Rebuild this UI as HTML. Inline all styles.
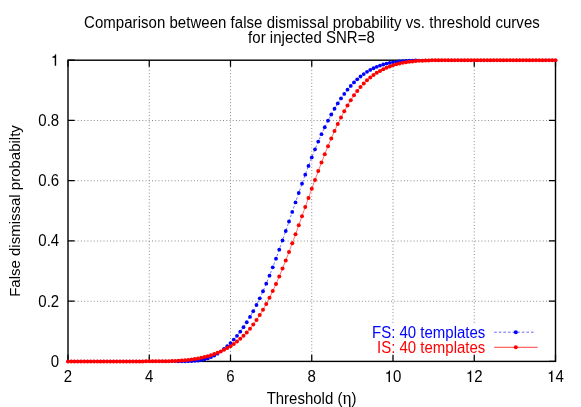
<!DOCTYPE html>
<html><head><meta charset="utf-8"><title>plot</title>
<style>html,body{margin:0;padding:0;background:#fff}svg{display:block;will-change:transform}text{font-family:"Liberation Sans",sans-serif;font-size:15.0px;fill:#000;stroke:#000;stroke-width:0px}.b{fill:#00f;stroke:#00f}.r{fill:#f00;stroke:#f00}</style></head>
<body>
<svg width="581" height="407" viewBox="0 0 581 407">
<rect width="581" height="407" fill="#fff"/>
<path d="M149.25 60.20V361.40M230.50 60.20V361.40M311.75 60.20V361.40M393.00 60.20V361.40M474.25 60.20V361.40M68.00 301.26H555.50M68.00 241.02H555.50M68.00 180.78H555.50M68.00 120.54H555.50" stroke="#8a8a8a" stroke-width="1" stroke-dasharray="1 2.23" fill="none"/>
<rect x="368" y="324.3" width="172" height="31" fill="#fff"/>
<rect x="68.0" y="60.2" width="487.5" height="301.2" fill="none" stroke="#000" stroke-width="1.4"/>
<path d="M68.00 361.40v-6.6M68.00 60.20v6.6M149.25 361.40v-6.6M149.25 60.20v6.6M230.50 361.40v-6.6M230.50 60.20v6.6M311.75 361.40v-6.6M311.75 60.20v6.6M393.00 361.40v-6.6M393.00 60.20v6.6M474.25 361.40v-6.6M474.25 60.20v6.6M555.50 361.40v-6.6M555.50 60.20v6.6M68.00 361.40h6.6M555.50 361.40h-6.6M68.00 301.16h6.6M555.50 301.16h-6.6M68.00 240.92h6.6M555.50 240.92h-6.6M68.00 180.68h6.6M555.50 180.68h-6.6M68.00 120.44h6.6M555.50 120.44h-6.6M68.00 60.20h6.6M555.50 60.20h-6.6" stroke="#000" stroke-width="1.25" fill="none"/>
<text transform="translate(68.00 381.90) scale(1 1.07)" text-anchor="middle">2</text>
<text transform="translate(149.25 381.90) scale(1 1.07)" text-anchor="middle">4</text>
<text transform="translate(230.50 381.90) scale(1 1.07)" text-anchor="middle">6</text>
<text transform="translate(311.75 381.90) scale(1 1.07)" text-anchor="middle">8</text>
<path d="M389.96 381.90L388.55 381.90L388.55 373.79L386.19 373.79L386.19 372.78C388.11 372.59 388.79 371.95 389.07 370.52L389.96 370.52Z" fill="#000"/>
<text transform="translate(393.00 381.90) scale(1 1.07)">0</text>
<path d="M471.21 381.90L469.80 381.90L469.80 373.79L467.44 373.79L467.44 372.78C469.36 372.59 470.04 371.95 470.32 370.52L471.21 370.52Z" fill="#000"/>
<text transform="translate(474.25 381.90) scale(1 1.07)">2</text>
<path d="M552.45 381.90L551.04 381.90L551.04 373.79L548.69 373.79L548.69 372.78C550.61 372.59 551.28 371.95 551.57 370.52L552.45 370.52Z" fill="#000"/>
<text transform="translate(555.50 381.90) scale(1 1.07)">4</text>
<text transform="translate(59.20 366.95) scale(1 1.07)" text-anchor="end">0</text>
<text transform="translate(59.20 306.71) scale(1 1.07)" text-anchor="end">0.2</text>
<text transform="translate(59.20 246.47) scale(1 1.07)" text-anchor="end">0.4</text>
<text transform="translate(59.20 186.23) scale(1 1.07)" text-anchor="end">0.6</text>
<text transform="translate(59.20 125.99) scale(1 1.07)" text-anchor="end">0.8</text>
<path d="M56.16 65.75L54.74 65.75L54.74 57.64L52.39 57.64L52.39 56.63C54.31 56.44 54.98 55.80 55.27 54.37L56.16 54.37Z" fill="#000"/>
<text transform="translate(311.95 28.00) scale(1 1.07)" text-anchor="middle" letter-spacing="0.04">Comparison between false dismissal probability vs. threshold curves</text>
<text transform="translate(311.45 42.60) scale(1 1.07)" text-anchor="middle" letter-spacing="0.03">for injected SNR=8</text>
<text transform="translate(311.60 404.30) scale(1 1.07)" text-anchor="middle">Threshold (<tspan font-family="Liberation Serif" font-size="17.5px">η</tspan>)</text>
<text transform="translate(19.9 211.0) rotate(-90) scale(1 1.0)" text-anchor="middle">False dismissal probabilty</text>
<text transform="translate(485.30 337.75) scale(1 1.07)" text-anchor="end" class="b">FS: 40 templates</text>
<text transform="translate(485.30 352.60) scale(1 1.07)" text-anchor="end" class="r">IS: 40 templates</text>
<path d="M494.2 332.2H535" stroke="#00f" stroke-width="0.6" stroke-dasharray="2.6 2" fill="none"/>
<circle cx="515.8" cy="332.2" r="2" fill="#00f"/>
<path d="M494.2 347.3H537.6" stroke="#f00" stroke-width="0.75" fill="none"/>
<circle cx="515.8" cy="347.3" r="2" fill="#f00"/>
<path d="M68.00 361.40L71.25 361.40L74.50 361.40L77.75 361.40L81.00 361.40L84.25 361.40L87.50 361.40L90.75 361.40L94.00 361.40L97.25 361.40L100.50 361.40L103.75 361.40L107.00 361.40L110.25 361.40L113.50 361.40L116.75 361.40L120.00 361.40L123.25 361.40L126.50 361.40L129.75 361.40L133.00 361.40L136.25 361.40L139.50 361.40L142.75 361.40L146.00 361.40L149.25 361.40L152.50 361.40L155.75 361.40L159.00 361.40L162.25 361.40L165.50 361.40L168.75 361.39L172.00 361.39L175.25 361.38L178.50 361.36L181.75 361.33L185.00 361.28L188.25 361.20L191.50 361.07L194.75 360.87L198.00 360.55L201.25 360.07L204.50 359.36L207.75 358.38L211.00 357.11L214.25 355.55L217.50 353.68L220.75 351.49L224.00 348.99L227.25 346.17L230.50 343.05L233.75 339.60L237.00 335.83L240.25 331.70L243.50 327.19L246.75 322.27L250.00 316.95L253.25 311.19L256.50 305.00L259.75 298.36L263.00 291.25L266.25 283.69L269.50 275.71L272.75 267.34L276.00 258.64L279.25 249.64L282.50 240.41L285.75 231.00L289.00 221.49L292.25 211.94L295.50 202.42L298.75 192.99L302.00 183.72L305.25 174.67L308.50 165.90L311.75 157.44L315.00 149.33L318.25 141.58L321.50 134.22L324.75 127.25L328.00 120.68L331.25 114.52L334.50 108.76L337.75 103.41L341.00 98.45L344.25 93.89L347.50 89.70L350.75 85.89L354.00 82.43L357.25 79.31L360.50 76.52L363.75 74.03L367.00 71.84L370.25 69.91L373.50 68.23L376.75 66.78L380.00 65.54L383.25 64.49L386.50 63.61L389.75 62.88L393.00 62.28L396.25 61.80L399.50 61.42L402.75 61.12L406.00 60.89L409.25 60.71L412.50 60.58L415.75 60.48L419.00 60.40L422.25 60.34L425.50 60.30L428.75 60.27L432.00 60.25L435.25 60.24L438.50 60.22L441.75 60.22L445.00 60.21L448.25 60.21L451.50 60.21L454.75 60.20L458.00 60.20L461.25 60.20L464.50 60.20L467.75 60.20L471.00 60.20L474.25 60.20L477.50 60.20L480.75 60.20L484.00 60.20L487.25 60.20L490.50 60.20L493.75 60.20L497.00 60.20L500.25 60.20L503.50 60.20L506.75 60.20L510.00 60.20L513.25 60.20L516.50 60.20L519.75 60.20L523.00 60.20L526.25 60.20L529.50 60.20L532.75 60.20L536.00 60.20L539.25 60.20L542.50 60.20L545.75 60.20L549.00 60.20L552.25 60.20L555.50 60.20" stroke="#00f" stroke-width="0.55" fill="none" stroke-dasharray="2.6 2"/><g fill="#00f"><circle cx="68.00" cy="361.40" r="1.55"/><circle cx="71.25" cy="361.40" r="1.55"/><circle cx="74.50" cy="361.40" r="1.55"/><circle cx="77.75" cy="361.40" r="1.55"/><circle cx="81.00" cy="361.40" r="1.55"/><circle cx="84.25" cy="361.40" r="1.55"/><circle cx="87.50" cy="361.40" r="1.55"/><circle cx="90.75" cy="361.40" r="1.55"/><circle cx="94.00" cy="361.40" r="1.55"/><circle cx="97.25" cy="361.40" r="1.55"/><circle cx="100.50" cy="361.40" r="1.55"/><circle cx="103.75" cy="361.40" r="1.55"/><circle cx="107.00" cy="361.40" r="1.55"/><circle cx="110.25" cy="361.40" r="1.55"/><circle cx="113.50" cy="361.40" r="1.55"/><circle cx="116.75" cy="361.40" r="1.55"/><circle cx="120.00" cy="361.40" r="1.55"/><circle cx="123.25" cy="361.40" r="1.55"/><circle cx="126.50" cy="361.40" r="1.55"/><circle cx="129.75" cy="361.40" r="1.55"/><circle cx="133.00" cy="361.40" r="1.55"/><circle cx="136.25" cy="361.40" r="1.55"/><circle cx="139.50" cy="361.40" r="1.55"/><circle cx="142.75" cy="361.40" r="1.55"/><circle cx="146.00" cy="361.40" r="1.55"/><circle cx="149.25" cy="361.40" r="1.55"/><circle cx="152.50" cy="361.40" r="1.55"/><circle cx="155.75" cy="361.40" r="1.55"/><circle cx="159.00" cy="361.40" r="1.55"/><circle cx="162.25" cy="361.40" r="1.55"/><circle cx="165.50" cy="361.40" r="1.55"/><circle cx="168.75" cy="361.39" r="1.55"/><circle cx="172.00" cy="361.39" r="1.55"/><circle cx="175.25" cy="361.38" r="1.55"/><circle cx="178.50" cy="361.36" r="1.9"/><circle cx="181.75" cy="361.33" r="1.9"/><circle cx="185.00" cy="361.28" r="1.9"/><circle cx="188.25" cy="361.20" r="1.9"/><circle cx="191.50" cy="361.07" r="1.9"/><circle cx="194.75" cy="360.87" r="1.9"/><circle cx="198.00" cy="360.55" r="1.9"/><circle cx="201.25" cy="360.07" r="1.9"/><circle cx="204.50" cy="359.36" r="1.9"/><circle cx="207.75" cy="358.38" r="1.9"/><circle cx="211.00" cy="357.11" r="1.9"/><circle cx="214.25" cy="355.55" r="1.9"/><circle cx="217.50" cy="353.68" r="1.9"/><circle cx="220.75" cy="351.49" r="1.55"/><circle cx="224.00" cy="348.99" r="1.9"/><circle cx="227.25" cy="346.17" r="1.9"/><circle cx="230.50" cy="343.05" r="1.9"/><circle cx="233.75" cy="339.60" r="1.9"/><circle cx="237.00" cy="335.83" r="1.9"/><circle cx="240.25" cy="331.70" r="1.9"/><circle cx="243.50" cy="327.19" r="1.9"/><circle cx="246.75" cy="322.27" r="1.9"/><circle cx="250.00" cy="316.95" r="1.9"/><circle cx="253.25" cy="311.19" r="1.9"/><circle cx="256.50" cy="305.00" r="1.9"/><circle cx="259.75" cy="298.36" r="1.9"/><circle cx="263.00" cy="291.25" r="1.9"/><circle cx="266.25" cy="283.69" r="1.9"/><circle cx="269.50" cy="275.71" r="1.9"/><circle cx="272.75" cy="267.34" r="1.9"/><circle cx="276.00" cy="258.64" r="1.9"/><circle cx="279.25" cy="249.64" r="1.9"/><circle cx="282.50" cy="240.41" r="1.9"/><circle cx="285.75" cy="231.00" r="1.9"/><circle cx="289.00" cy="221.49" r="1.9"/><circle cx="292.25" cy="211.94" r="1.9"/><circle cx="295.50" cy="202.42" r="1.9"/><circle cx="298.75" cy="192.99" r="1.9"/><circle cx="302.00" cy="183.72" r="1.9"/><circle cx="305.25" cy="174.67" r="1.9"/><circle cx="308.50" cy="165.90" r="1.9"/><circle cx="311.75" cy="157.44" r="1.9"/><circle cx="315.00" cy="149.33" r="1.9"/><circle cx="318.25" cy="141.58" r="1.9"/><circle cx="321.50" cy="134.22" r="1.9"/><circle cx="324.75" cy="127.25" r="1.9"/><circle cx="328.00" cy="120.68" r="1.9"/><circle cx="331.25" cy="114.52" r="1.9"/><circle cx="334.50" cy="108.76" r="1.9"/><circle cx="337.75" cy="103.41" r="1.9"/><circle cx="341.00" cy="98.45" r="1.9"/><circle cx="344.25" cy="93.89" r="1.9"/><circle cx="347.50" cy="89.70" r="1.9"/><circle cx="350.75" cy="85.89" r="1.9"/><circle cx="354.00" cy="82.43" r="1.9"/><circle cx="357.25" cy="79.31" r="1.9"/><circle cx="360.50" cy="76.52" r="1.9"/><circle cx="363.75" cy="74.03" r="1.9"/><circle cx="367.00" cy="71.84" r="1.9"/><circle cx="370.25" cy="69.91" r="1.9"/><circle cx="373.50" cy="68.23" r="1.9"/><circle cx="376.75" cy="66.78" r="1.9"/><circle cx="380.00" cy="65.54" r="1.9"/><circle cx="383.25" cy="64.49" r="1.9"/><circle cx="386.50" cy="63.61" r="1.9"/><circle cx="389.75" cy="62.88" r="1.9"/><circle cx="393.00" cy="62.28" r="1.9"/><circle cx="396.25" cy="61.80" r="1.9"/><circle cx="399.50" cy="61.42" r="1.9"/><circle cx="402.75" cy="61.12" r="1.9"/><circle cx="406.00" cy="60.89" r="1.9"/><circle cx="409.25" cy="60.71" r="1.9"/><circle cx="412.50" cy="60.58" r="1.9"/><circle cx="415.75" cy="60.48" r="1.9"/><circle cx="419.00" cy="60.40" r="1.55"/><circle cx="422.25" cy="60.34" r="1.55"/><circle cx="425.50" cy="60.30" r="1.55"/><circle cx="428.75" cy="60.27" r="1.55"/><circle cx="432.00" cy="60.25" r="1.55"/><circle cx="435.25" cy="60.24" r="1.55"/><circle cx="438.50" cy="60.22" r="1.55"/><circle cx="441.75" cy="60.22" r="1.55"/><circle cx="445.00" cy="60.21" r="1.55"/><circle cx="448.25" cy="60.21" r="1.55"/><circle cx="451.50" cy="60.21" r="1.55"/><circle cx="454.75" cy="60.20" r="1.55"/><circle cx="458.00" cy="60.20" r="1.55"/><circle cx="461.25" cy="60.20" r="1.55"/><circle cx="464.50" cy="60.20" r="1.55"/><circle cx="467.75" cy="60.20" r="1.55"/><circle cx="471.00" cy="60.20" r="1.55"/><circle cx="474.25" cy="60.20" r="1.55"/><circle cx="477.50" cy="60.20" r="1.55"/><circle cx="480.75" cy="60.20" r="1.55"/><circle cx="484.00" cy="60.20" r="1.55"/><circle cx="487.25" cy="60.20" r="1.55"/><circle cx="490.50" cy="60.20" r="1.55"/><circle cx="493.75" cy="60.20" r="1.55"/><circle cx="497.00" cy="60.20" r="1.55"/><circle cx="500.25" cy="60.20" r="1.55"/><circle cx="503.50" cy="60.20" r="1.55"/><circle cx="506.75" cy="60.20" r="1.55"/><circle cx="510.00" cy="60.20" r="1.55"/><circle cx="513.25" cy="60.20" r="1.55"/><circle cx="516.50" cy="60.20" r="1.55"/><circle cx="519.75" cy="60.20" r="1.55"/><circle cx="523.00" cy="60.20" r="1.55"/><circle cx="526.25" cy="60.20" r="1.55"/><circle cx="529.50" cy="60.20" r="1.55"/><circle cx="532.75" cy="60.20" r="1.55"/><circle cx="536.00" cy="60.20" r="1.55"/><circle cx="539.25" cy="60.20" r="1.55"/><circle cx="542.50" cy="60.20" r="1.55"/><circle cx="545.75" cy="60.20" r="1.55"/><circle cx="549.00" cy="60.20" r="1.55"/><circle cx="552.25" cy="60.20" r="1.55"/><circle cx="555.50" cy="60.20" r="1.55"/></g>
<path d="M68.00 361.40L71.25 361.40L74.50 361.40L77.75 361.40L81.00 361.40L84.25 361.40L87.50 361.40L90.75 361.40L94.00 361.40L97.25 361.40L100.50 361.40L103.75 361.40L107.00 361.40L110.25 361.40L113.50 361.40L116.75 361.40L120.00 361.40L123.25 361.40L126.50 361.40L129.75 361.40L133.00 361.39L136.25 361.39L139.50 361.39L142.75 361.38L146.00 361.37L149.25 361.36L152.50 361.35L155.75 361.33L159.00 361.30L162.25 361.26L165.50 361.20L168.75 361.13L172.00 361.04L175.25 360.91L178.50 360.75L181.75 360.54L185.00 360.28L188.25 359.95L191.50 359.55L194.75 359.08L198.00 358.51L201.25 357.85L204.50 357.08L207.75 356.20L211.00 355.20L214.25 354.08L217.50 352.82L220.75 351.41L224.00 349.83L227.25 348.08L230.50 346.13L233.75 343.96L237.00 341.54L240.25 338.83L243.50 335.81L246.75 332.44L250.00 328.71L253.25 324.59L256.50 320.06L259.75 315.11L263.00 309.74L266.25 303.93L269.50 297.69L272.75 291.02L276.00 283.93L279.25 276.46L282.50 268.61L285.75 260.44L289.00 251.97L292.25 243.25L295.50 234.34L298.75 225.29L302.00 216.16L305.25 207.01L308.50 197.88L311.75 188.82L315.00 179.89L318.25 171.11L321.50 162.55L324.75 154.23L328.00 146.19L331.25 138.47L334.50 131.09L337.75 124.09L341.00 117.47L344.25 111.27L347.50 105.52L350.75 100.21L354.00 95.35L357.25 90.95L360.50 86.98L363.75 83.43L367.00 80.27L370.25 77.47L373.50 75.00L376.75 72.81L380.00 70.88L383.25 69.19L386.50 67.71L389.75 66.42L393.00 65.31L396.25 64.35L399.50 63.53L402.75 62.84L406.00 62.27L409.25 61.79L412.50 61.41L415.75 61.10L419.00 60.86L422.25 60.67L425.50 60.54L428.75 60.44L432.00 60.37L435.25 60.31L438.50 60.28L441.75 60.25L445.00 60.24L448.25 60.22L451.50 60.22L454.75 60.21L458.00 60.21L461.25 60.20L464.50 60.20L467.75 60.20L471.00 60.20L474.25 60.20L477.50 60.20L480.75 60.20L484.00 60.20L487.25 60.20L490.50 60.20L493.75 60.20L497.00 60.20L500.25 60.20L503.50 60.20L506.75 60.20L510.00 60.20L513.25 60.20L516.50 60.20L519.75 60.20L523.00 60.20L526.25 60.20L529.50 60.20L532.75 60.20L536.00 60.20L539.25 60.20L542.50 60.20L545.75 60.20L549.00 60.20L552.25 60.20L555.50 60.20" stroke="#f00" stroke-width="0.55" fill="none" /><g fill="#f00"><circle cx="68.00" cy="361.40" r="2.0"/><circle cx="71.25" cy="361.40" r="2.0"/><circle cx="74.50" cy="361.40" r="2.0"/><circle cx="77.75" cy="361.40" r="2.0"/><circle cx="81.00" cy="361.40" r="2.0"/><circle cx="84.25" cy="361.40" r="2.0"/><circle cx="87.50" cy="361.40" r="2.0"/><circle cx="90.75" cy="361.40" r="2.0"/><circle cx="94.00" cy="361.40" r="2.0"/><circle cx="97.25" cy="361.40" r="2.0"/><circle cx="100.50" cy="361.40" r="2.0"/><circle cx="103.75" cy="361.40" r="2.0"/><circle cx="107.00" cy="361.40" r="2.0"/><circle cx="110.25" cy="361.40" r="2.0"/><circle cx="113.50" cy="361.40" r="2.0"/><circle cx="116.75" cy="361.40" r="2.0"/><circle cx="120.00" cy="361.40" r="2.0"/><circle cx="123.25" cy="361.40" r="2.0"/><circle cx="126.50" cy="361.40" r="2.0"/><circle cx="129.75" cy="361.40" r="2.0"/><circle cx="133.00" cy="361.39" r="2.0"/><circle cx="136.25" cy="361.39" r="2.0"/><circle cx="139.50" cy="361.39" r="2.0"/><circle cx="142.75" cy="361.38" r="2.0"/><circle cx="146.00" cy="361.37" r="2.0"/><circle cx="149.25" cy="361.36" r="2.0"/><circle cx="152.50" cy="361.35" r="2.0"/><circle cx="155.75" cy="361.33" r="2.0"/><circle cx="159.00" cy="361.30" r="2.0"/><circle cx="162.25" cy="361.26" r="2.0"/><circle cx="165.50" cy="361.20" r="2.0"/><circle cx="168.75" cy="361.13" r="2.0"/><circle cx="172.00" cy="361.04" r="2.0"/><circle cx="175.25" cy="360.91" r="2.0"/><circle cx="178.50" cy="360.75" r="2.0"/><circle cx="181.75" cy="360.54" r="2.0"/><circle cx="185.00" cy="360.28" r="2.0"/><circle cx="188.25" cy="359.95" r="2.0"/><circle cx="191.50" cy="359.55" r="2.0"/><circle cx="194.75" cy="359.08" r="2.0"/><circle cx="198.00" cy="358.51" r="2.0"/><circle cx="201.25" cy="357.85" r="2.0"/><circle cx="204.50" cy="357.08" r="2.0"/><circle cx="207.75" cy="356.20" r="2.0"/><circle cx="211.00" cy="355.20" r="2.0"/><circle cx="214.25" cy="354.08" r="2.0"/><circle cx="217.50" cy="352.82" r="2.0"/><circle cx="220.75" cy="351.41" r="2.0"/><circle cx="224.00" cy="349.83" r="2.0"/><circle cx="227.25" cy="348.08" r="2.0"/><circle cx="230.50" cy="346.13" r="2.0"/><circle cx="233.75" cy="343.96" r="2.0"/><circle cx="237.00" cy="341.54" r="2.0"/><circle cx="240.25" cy="338.83" r="2.0"/><circle cx="243.50" cy="335.81" r="2.0"/><circle cx="246.75" cy="332.44" r="2.0"/><circle cx="250.00" cy="328.71" r="2.0"/><circle cx="253.25" cy="324.59" r="2.0"/><circle cx="256.50" cy="320.06" r="2.0"/><circle cx="259.75" cy="315.11" r="2.0"/><circle cx="263.00" cy="309.74" r="2.0"/><circle cx="266.25" cy="303.93" r="2.0"/><circle cx="269.50" cy="297.69" r="2.0"/><circle cx="272.75" cy="291.02" r="2.0"/><circle cx="276.00" cy="283.93" r="2.0"/><circle cx="279.25" cy="276.46" r="2.0"/><circle cx="282.50" cy="268.61" r="2.0"/><circle cx="285.75" cy="260.44" r="2.0"/><circle cx="289.00" cy="251.97" r="2.0"/><circle cx="292.25" cy="243.25" r="2.0"/><circle cx="295.50" cy="234.34" r="2.0"/><circle cx="298.75" cy="225.29" r="2.0"/><circle cx="302.00" cy="216.16" r="2.0"/><circle cx="305.25" cy="207.01" r="2.0"/><circle cx="308.50" cy="197.88" r="2.0"/><circle cx="311.75" cy="188.82" r="2.0"/><circle cx="315.00" cy="179.89" r="2.0"/><circle cx="318.25" cy="171.11" r="2.0"/><circle cx="321.50" cy="162.55" r="2.0"/><circle cx="324.75" cy="154.23" r="2.0"/><circle cx="328.00" cy="146.19" r="2.0"/><circle cx="331.25" cy="138.47" r="2.0"/><circle cx="334.50" cy="131.09" r="2.0"/><circle cx="337.75" cy="124.09" r="2.0"/><circle cx="341.00" cy="117.47" r="2.0"/><circle cx="344.25" cy="111.27" r="2.0"/><circle cx="347.50" cy="105.52" r="2.0"/><circle cx="350.75" cy="100.21" r="2.0"/><circle cx="354.00" cy="95.35" r="2.0"/><circle cx="357.25" cy="90.95" r="2.0"/><circle cx="360.50" cy="86.98" r="2.0"/><circle cx="363.75" cy="83.43" r="2.0"/><circle cx="367.00" cy="80.27" r="2.0"/><circle cx="370.25" cy="77.47" r="2.0"/><circle cx="373.50" cy="75.00" r="2.0"/><circle cx="376.75" cy="72.81" r="2.0"/><circle cx="380.00" cy="70.88" r="2.0"/><circle cx="383.25" cy="69.19" r="2.0"/><circle cx="386.50" cy="67.71" r="2.0"/><circle cx="389.75" cy="66.42" r="2.0"/><circle cx="393.00" cy="65.31" r="2.0"/><circle cx="396.25" cy="64.35" r="2.0"/><circle cx="399.50" cy="63.53" r="2.0"/><circle cx="402.75" cy="62.84" r="2.0"/><circle cx="406.00" cy="62.27" r="2.0"/><circle cx="409.25" cy="61.79" r="2.0"/><circle cx="412.50" cy="61.41" r="2.0"/><circle cx="415.75" cy="61.10" r="2.0"/><circle cx="419.00" cy="60.86" r="2.0"/><circle cx="422.25" cy="60.67" r="2.0"/><circle cx="425.50" cy="60.54" r="2.0"/><circle cx="428.75" cy="60.44" r="2.0"/><circle cx="432.00" cy="60.37" r="2.0"/><circle cx="435.25" cy="60.31" r="2.0"/><circle cx="438.50" cy="60.28" r="2.0"/><circle cx="441.75" cy="60.25" r="2.0"/><circle cx="445.00" cy="60.24" r="2.0"/><circle cx="448.25" cy="60.22" r="2.0"/><circle cx="451.50" cy="60.22" r="2.0"/><circle cx="454.75" cy="60.21" r="2.0"/><circle cx="458.00" cy="60.21" r="2.0"/><circle cx="461.25" cy="60.20" r="2.0"/><circle cx="464.50" cy="60.20" r="2.0"/><circle cx="467.75" cy="60.20" r="2.0"/><circle cx="471.00" cy="60.20" r="2.0"/><circle cx="474.25" cy="60.20" r="2.0"/><circle cx="477.50" cy="60.20" r="2.0"/><circle cx="480.75" cy="60.20" r="2.0"/><circle cx="484.00" cy="60.20" r="2.0"/><circle cx="487.25" cy="60.20" r="2.0"/><circle cx="490.50" cy="60.20" r="2.0"/><circle cx="493.75" cy="60.20" r="2.0"/><circle cx="497.00" cy="60.20" r="2.0"/><circle cx="500.25" cy="60.20" r="2.0"/><circle cx="503.50" cy="60.20" r="2.0"/><circle cx="506.75" cy="60.20" r="2.0"/><circle cx="510.00" cy="60.20" r="2.0"/><circle cx="513.25" cy="60.20" r="2.0"/><circle cx="516.50" cy="60.20" r="2.0"/><circle cx="519.75" cy="60.20" r="2.0"/><circle cx="523.00" cy="60.20" r="2.0"/><circle cx="526.25" cy="60.20" r="2.0"/><circle cx="529.50" cy="60.20" r="2.0"/><circle cx="532.75" cy="60.20" r="2.0"/><circle cx="536.00" cy="60.20" r="2.0"/><circle cx="539.25" cy="60.20" r="2.0"/><circle cx="542.50" cy="60.20" r="2.0"/><circle cx="545.75" cy="60.20" r="2.0"/><circle cx="549.00" cy="60.20" r="2.0"/><circle cx="552.25" cy="60.20" r="2.0"/><circle cx="555.50" cy="60.20" r="2.0"/></g>
</svg></body></html>
